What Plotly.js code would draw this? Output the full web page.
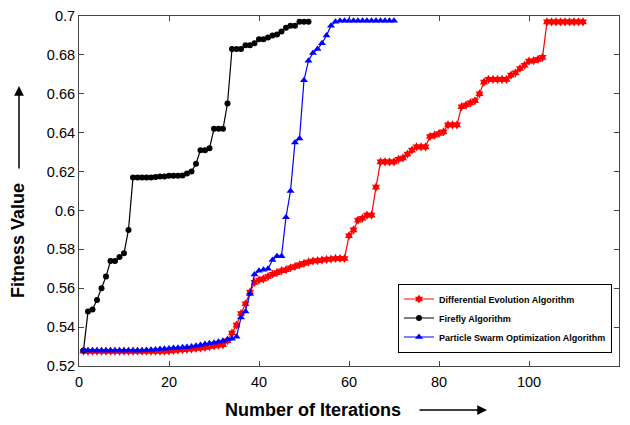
<!DOCTYPE html>
<html>
<head>
<meta charset="utf-8">
<script src="https://cdn.plot.ly/plotly-3.0.1.min.js"></script>
<style>html,body{margin:0;padding:0;background:#fff;}#chart{width:630px;height:425px;}</style>
</head>
<body>
<div id="chart"></div>
<script>
// Differential Evolution Algorithm (iterations 1..112)
const deValues = [
0.5276,0.5276,0.5276,0.5276,0.5276,0.5276,0.5276,0.5276,0.5276,0.5276,
0.5276,0.5276,0.5276,0.5276,0.5276,0.5276,0.5276,0.5276,0.5276,0.5278,
0.528,0.5282,0.5284,0.5286,0.5288,0.529,0.5293,0.5296,0.530,0.5303,
0.5307,0.531,0.533,0.537,0.541,0.547,0.552,0.558,0.563,0.5642,
0.5648,0.566,0.5672,0.568,0.569,0.5695,0.5705,0.5712,0.572,0.5728,
0.5735,0.574,0.5742,0.5745,0.5748,0.575,0.5753,0.5753,0.5753,0.587,
0.590,0.595,0.596,0.5976,0.5976,0.612,0.625,0.625,0.625,0.625,
0.6263,0.627,0.629,0.631,0.6327,0.6327,0.6327,0.638,0.6387,0.6396,
0.6404,0.644,0.644,0.644,0.6533,0.6542,0.6553,0.6564,0.660,0.666,
0.6674,0.6674,0.6674,0.6674,0.6674,0.6696,0.6708,0.673,0.6747,0.6768,
0.677,0.6777,0.6787,0.697,0.697,0.697,0.697,0.697,0.697,0.697,
0.697,0.697
];
// Firefly Algorithm (iterations 1..51)
const faValues = [
0.528,0.548,0.549,0.554,0.560,0.566,0.574,0.574,0.576,0.578,
0.590,0.617,0.617,0.617,0.617,0.617,0.6172,0.6175,0.6175,0.6178,
0.6178,0.6178,0.618,0.619,0.620,0.624,0.631,0.631,0.632,0.642,
0.642,0.642,0.655,0.683,0.683,0.683,0.685,0.685,0.686,0.688,
0.688,0.689,0.690,0.6905,0.692,0.694,0.695,0.695,0.697,0.697,
0.697
];
// Particle Swarm Optimization Algorithm (iterations 1..70)
const psoValues = [
0.528,0.528,0.528,0.528,0.528,0.528,0.528,0.528,0.528,0.528,
0.528,0.528,0.528,0.528,0.5282,0.5284,0.5285,0.5287,0.5289,0.529,
0.5292,0.5294,0.5296,0.5298,0.530,0.5304,0.5308,0.5313,0.5317,0.532,
0.5325,0.533,0.5337,0.534,0.535,0.545,0.548,0.557,0.567,0.569,
0.5695,0.570,0.5745,0.5765,0.5765,0.5965,0.610,0.635,0.637,0.667,
0.677,0.681,0.683,0.686,0.690,0.695,0.697,0.6975,0.6975,0.6975,
0.6975,0.6975,0.6975,0.6975,0.6975,0.6975,0.6975,0.6975,0.6975,0.6975
];
const seriesNames = ["Differential Evolution Algorithm","Firefly Algorithm","Particle Swarm Optimization Algorithm"];
const xTickVals = [0,20,40,60,80,100,120];
const yTickVals = [0.52,0.54,0.56,0.58,0.6,0.62,0.64,0.66,0.68,0.7];
const yTickText = ["0.52","0.54","0.56","0.58","0.6","0.62","0.64","0.66","0.68","0.7"];

const iters = n => Array.from({length:n},(_,i)=>i+1);

const traces = [
  {x: iters(deValues.length), y: deValues, name: seriesNames[0], type:'scatter', mode:'lines+markers',
   line:{color:'#ff0000', width:1.2}, marker:{symbol:'hexagram', size:7, color:'#ff0000'}},
  {x: iters(faValues.length), y: faValues, name: seriesNames[1], type:'scatter', mode:'lines+markers',
   line:{color:'#000000', width:1.2}, marker:{symbol:'circle', size:6, color:'#000000'}},
  {x: iters(psoValues.length), y: psoValues, name: seriesNames[2], type:'scatter', mode:'lines+markers',
   line:{color:'#0000ff', width:1.2}, marker:{symbol:'triangle-up', size:7, color:'#0000ff'}}
];

const tickFont = {family:'Liberation Sans, Arial, sans-serif', size:14.5, color:'#000'};
const titleFont = {family:'Liberation Sans, Arial, sans-serif', size:18, color:'#000', weight:'bold'};

const L = 79, R = 619, T = 16, B = 366;
const px2x = p => (p - L) / (R - L);
const py2y = p => (B - p) / (B - T);

const layout = {
  width:630, height:425,
  margin:{l:L, r:630-R, t:T, b:425-B},
  paper_bgcolor:'#fff', plot_bgcolor:'#fff',
  showlegend:true,
  legend:{x:px2x(612), xanchor:'right', y:py2y(318), yanchor:'middle', bgcolor:'#fff', bordercolor:'#000', borderwidth:1,
          font:{family:'Liberation Sans, Arial, sans-serif', size:9, color:'#000', weight:'bold'}},
  xaxis:{range:[0,120], tickvals:xTickVals, ticks:'inside', ticklen:5, tickcolor:'#444',
         showline:true, linecolor:'#444', linewidth:1, mirror:'ticks', showgrid:false, zeroline:false,
         tickfont:tickFont, ticklabelstandoff:3},
  yaxis:{range:[0.52,0.7], tickvals:yTickVals, ticktext:yTickText, ticks:'inside', ticklen:5, tickcolor:'#444',
         showline:true, linecolor:'#444', linewidth:1, mirror:'ticks', showgrid:false, zeroline:false,
         tickfont:tickFont},
  annotations:[
    {text:'Number of Iterations', xref:'paper', yref:'paper', x:px2x(313), y:py2y(410),
     xanchor:'center', yanchor:'middle', showarrow:false, font:titleFont},
    {text:'', xref:'paper', yref:'paper', x:px2x(487), y:py2y(410), ax:-69, ay:0,
     showarrow:true, arrowhead:2, arrowsize:1.3, arrowwidth:1.5, arrowcolor:'#000'},
    {text:'Fitness Value', xref:'paper', yref:'paper', x:px2x(18), y:py2y(241), textangle:-90,
     xanchor:'center', yanchor:'middle', showarrow:false, font:titleFont},
    {text:'', xref:'paper', yref:'paper', x:px2x(19), y:py2y(86), ax:0, ay:84,
     showarrow:true, arrowhead:2, arrowsize:1.3, arrowwidth:1.5, arrowcolor:'#000'}
  ]
};

Plotly.newPlot('chart', traces, layout, {displayModeBar:false, staticPlot:true});
</script>
</body>
</html>
